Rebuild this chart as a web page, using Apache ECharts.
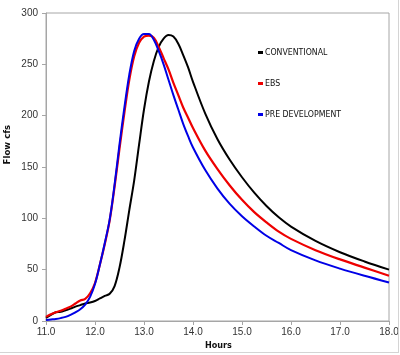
<!DOCTYPE html>
<html><head><meta charset="utf-8">
<script src="https://cdn.jsdelivr.net/npm/echarts@6/dist/echarts.min.js"></script>
<style>
html,body{margin:0;padding:0;background:#fff;overflow:hidden;}
#c{position:absolute;left:0;top:0;width:400px;height:355px;background:#fff;}
#f{position:absolute;left:0;top:0;width:398px;height:352px;border-right:1px solid #d4d4d4;border-bottom:1px solid #d4d4d4;pointer-events:none;}
</style></head><body>
<div id="c"></div><div id="f"></div>
<script>
const hours = [11.0,11.1,11.2,11.3,11.4,11.5,11.6,11.7,11.8,11.9,12.0,12.1,12.2,12.3,12.4,12.5,12.6,12.7,12.8,12.9,13.0,13.1,13.2,13.3,13.4,13.5,13.6,13.7,13.8,13.9,14.0,14.25,14.5,14.75,15.0,15.25,15.5,15.75,16.0,16.5,17.0,17.5,18.0];
const conventional = [3,6,8.5,9,10.5,12,14,15.5,17,18,19.5,22,24.5,26.5,34,52,78,108,137,172,206,233,253,267,275,278.5,277,270,259,247,233,202,177,157,140,125,112,101,92,78,67,58,50];
const ebs = [4,6.5,8.5,10,12,14,17,20,21.5,27,37,55,75,98,131,168,203,235,258,271,277,278,276,267,256,245,232,220,208,198,188,166,148,132,118,106,96,87,80,69,60,52,44];
const preDevelopment = [1,1.5,2,2.8,4,6,8.5,11.5,16,23.5,36,55,76,99,133,172,208,240,263,275,279.5,279.5,274,263,250,235,220,206,192,180,169,147,129,114,102,92,83,76,69,59,51,44,37.5];
const seriesNames = ['CONVENTIONAL','EBS','PRE DEVELOPMENT'];
const xTicks = {min:11, max:18, interval:1};
const yTicks = {min:0, max:300, interval:50};

function pairs(v){ return hours.map((h,i)=>[h,v[i]]); }
const chart = echarts.init(document.getElementById('c'), null, {renderer:'canvas'});
const axisFont = {fontFamily:'Liberation Sans, Arial, sans-serif', fontSize:10, color:'#333'};
const narrow = "'Liberation Sans Narrow','DejaVu Sans Condensed',sans-serif";
chart.setOption({
  animation:false,
  backgroundColor:'#fff',
  grid:{left:46, right:11, top:13, bottom:34, show:true, borderColor:'#a6a6a6', borderWidth:1, containLabel:false, outerBoundsMode:'none'},
  legend:{
    orient:'vertical', left:253, top:43, itemGap:22, itemWidth:5, itemHeight:3, icon:'rect',
    textStyle:{fontFamily:narrow, fontSize:8.7, color:'#111', padding:[0,0,0,-3]},
    data:seriesNames
  },
  xAxis:{type:'value', min:xTicks.min, max:xTicks.max, interval:xTicks.interval,
    axisLine:{lineStyle:{color:'#a6a6a6'}}, axisTick:{show:true, length:4, lineStyle:{color:'#a6a6a6'}},
    splitLine:{show:false},
    axisLabel:Object.assign({margin:6, formatter:v=>v.toFixed(1)}, axisFont)},
  yAxis:{type:'value', min:yTicks.min, max:yTicks.max, interval:yTicks.interval,
    axisLine:{show:true, lineStyle:{color:'#a6a6a6'}}, axisTick:{show:true, length:4, lineStyle:{color:'#a6a6a6'}},
    splitLine:{show:false},
    axisLabel:Object.assign({margin:8}, axisFont)},
  graphic:[
    {type:'text', left:3, top:125, rotation:Math.PI/2, style:{text:'Flow cfs', font:"bold 9.5px "+narrow, fill:'#111'}},
    {type:'text', left:205, top:341, style:{text:'Hours', font:"bold 9px "+narrow, fill:'#111'}}
  ],
  series:[
    {name:seriesNames[0], type:'line', data:pairs(conventional), smooth:0.35, showSymbol:false, lineStyle:{color:'#000', width:2}, itemStyle:{color:'#000'}},
    {name:seriesNames[1], type:'line', data:pairs(ebs), smooth:0.35, showSymbol:false, lineStyle:{color:'#ee0000', width:2.2}, itemStyle:{color:'#ee0000'}},
    {name:seriesNames[2], type:'line', data:pairs(preDevelopment), smooth:0.35, showSymbol:false, lineStyle:{color:'#0000e6', width:2}, itemStyle:{color:'#0000e6'}}
  ]
});
</script></body></html>
